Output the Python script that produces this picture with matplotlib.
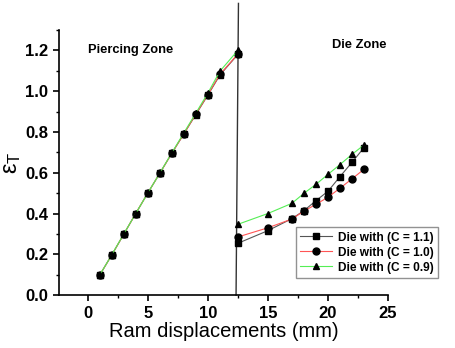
import matplotlib
matplotlib.use('Agg')
import matplotlib.pyplot as plt
from matplotlib.ticker import MultipleLocator

# piercing zone (ram displacement vs strain)
pierce_x = [1, 2, 3, 4, 5, 6, 7, 8, 9, 10, 11, 12.5]
pierce_c11 = [0.098, 0.196, 0.298, 0.40, 0.50, 0.597, 0.695, 0.79, 0.885, 0.98, 1.078, 1.18]
pierce_c10 = [0.098, 0.196, 0.298, 0.40, 0.50, 0.597, 0.695, 0.79, 0.887, 0.982, 1.082, 1.182]
pierce_c09 = [0.098, 0.197, 0.299, 0.40, 0.50, 0.598, 0.697, 0.795, 0.892, 0.99, 1.097, 1.20]

# die zone
die_x = [12.5, 15, 17, 18, 19, 20, 21, 22, 23]
die_c11 = [0.254, 0.316, 0.375, 0.414, 0.463, 0.509, 0.581, 0.651, 0.723]
die_c10 = [0.285, 0.330, 0.373, 0.412, 0.445, 0.480, 0.524, 0.570, 0.617]
die_c09 = [0.347, 0.400, 0.450, 0.499, 0.543, 0.592, 0.640, 0.690, 0.736]

labels = ['Die with (C = 1.1)', 'Die with (C = 1.0)', 'Die with (C = 0.9)']
line_colors = ['#555555', '#ff5555', '#55ee55']
markers = ['s', 'o', '^']

plt.rcParams['font.family'] = ['Liberation Sans', 'DejaVu Sans']

fig = plt.figure(figsize=(4.56, 3.48), dpi=100)
ax = fig.add_axes([0.129, 0.152, 0.722, 0.762])

pierce = [pierce_c11, pierce_c10, pierce_c09]
die = [die_c11, die_c10, die_c09]
for i in range(3):
    ax.plot(pierce_x, pierce[i], color=line_colors[i], lw=0.8, marker=markers[i],
            ms=5, mfc='black', mec='black')
    ax.plot(die_x, die[i], color=line_colors[i], lw=0.8, marker=markers[i],
            ms=5, mfc='black', mec='black', label=labels[i])

# zone divider
ax.plot([12.35, 12.55], [0, 1.43], color='#333333', lw=1.0, clip_on=False, zorder=1)

ax.set_xlim(-2.4, 25)
ax.set_ylim(0, 1.3)
ax.xaxis.set_major_locator(MultipleLocator(5))
ax.xaxis.set_minor_locator(MultipleLocator(2.5))
ax.yaxis.set_major_locator(MultipleLocator(0.2))
ax.yaxis.set_minor_locator(MultipleLocator(0.1))
ax.yaxis.set_major_formatter(matplotlib.ticker.FormatStrFormatter('%.1f'))

for s in ['top', 'right']:
    ax.spines[s].set_visible(False)
for s in ['left', 'bottom']:
    ax.spines[s].set_linewidth(1.2)
ax.tick_params(which='major', direction='out', length=4, width=1.2)
ax.tick_params(which='minor', direction='out', length=2.5, width=1.0)
for lbl in ax.get_xticklabels() + ax.get_yticklabels():
    lbl.set_fontweight('bold')
    lbl.set_fontsize(12)

ax.set_xlabel('Ram displacements (mm)', fontsize=14.5, labelpad=1)
ax.set_ylabel(r'$\mathregular{\varepsilon_T}$', fontsize=17, labelpad=2)

ax.text(0, 1.2, 'Piercing Zone', fontsize=9.3, fontweight='bold', va='center', ha='left')
ax.text(20.3, 1.228, 'Die Zone', fontsize=9.3, fontweight='bold', va='center', ha='left')

leg = ax.legend(loc='upper left', bbox_to_anchor=(0.72, 0.255),
                prop={'weight': 'bold', 'size': 8.6}, frameon=True, fancybox=False,
                handlelength=2.7, handletextpad=0.45, labelspacing=0.25, borderpad=0.35,
                borderaxespad=0)
leg.get_frame().set_edgecolor('#777777')
leg.get_frame().set_linewidth(1.0)

fig.savefig('out.png', dpi=100)
